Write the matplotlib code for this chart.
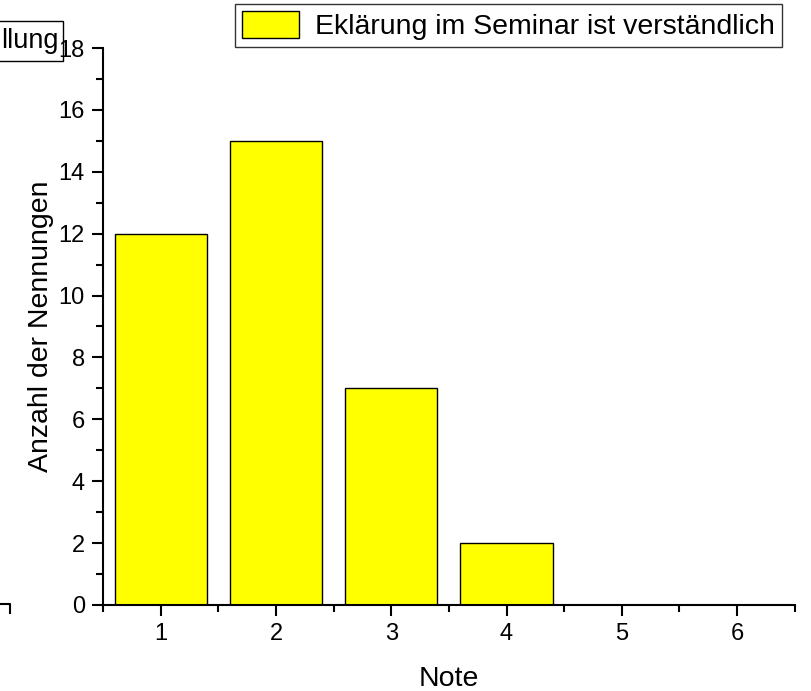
import matplotlib.pyplot as plt
from matplotlib.patches import Rectangle
from matplotlib.lines import Line2D
from matplotlib.ticker import MultipleLocator

plt.rcParams["font.family"] = ["Liberation Sans", "DejaVu Sans"]

notes = [1, 2, 3, 4, 5, 6]
counts = [12, 15, 7, 2, 0, 0]
series_label = "Eklärung im Seminar ist verständlich"
x_label = "Note"
y_label = "Anzahl der Nennungen"

fig = plt.figure(figsize=(8.11, 6.91), dpi=100)
ax = fig.add_axes([0.127, 0.1245, 0.853, 0.806])

bars = ax.bar(
    notes,
    counts,
    width=0.8,
    color="#ffff00",
    edgecolor="black",
    linewidth=1.0,
    label=series_label
)

ax.set_xlim(0.5, 6.5)
ax.set_ylim(0, 18)
ax.set_xticks(notes)
ax.set_yticks(range(0, 19, 2))
ax.xaxis.set_minor_locator(MultipleLocator(0.5))
ax.yaxis.set_minor_locator(MultipleLocator(1))

for side in ["top", "right"]:
    ax.spines[side].set_visible(False)
for side in ["left", "bottom"]:
    ax.spines[side].set_linewidth(1.5)

ax.tick_params(which="major", direction="out", length=8, width=1.5,
               labelsize=17, pad=5)
ax.tick_params(which="minor", direction="out", length=5, width=1.5)

ax.set_xlabel(x_label, fontsize=20.5, labelpad=15)
ax.set_ylabel(y_label, fontsize=20.5, labelpad=3)

legend = fig.legend(
    handles=[bars],
    labels=[series_label],
    loc="upper right",
    bbox_to_anchor=(782 / 811, 1 - 4 / 691),
    fontsize=20.5,
    frameon=True,
    fancybox=False,
    edgecolor="black",
    borderpad=0.25,
    handlelength=2.0,
    handleheight=1.05,
    handletextpad=0.55,
    borderaxespad=0
)
legend.get_frame().set_linewidth(1.0)

# cropped legend of a neighbouring chart on the left edge
fig.patches.append(Rectangle(
    (-0.01, 1 - 61 / 691), 63 / 811 + 0.01, 40 / 691,
    transform=fig.transFigure, fill=False, edgecolor="black",
    linewidth=1.0
))
fig.text(59 / 811, 1 - 41 / 691, "llung", fontsize=19.5,
         ha="right", va="center")
fig.lines.append(Line2D(
    [0, 10 / 811, 10 / 811],
    [1 - 604 / 691, 1 - 604 / 691, 1 - 613 / 691],
    transform=fig.transFigure, color="black", linewidth=1.5
))

fig.savefig("out.png", dpi=100)
